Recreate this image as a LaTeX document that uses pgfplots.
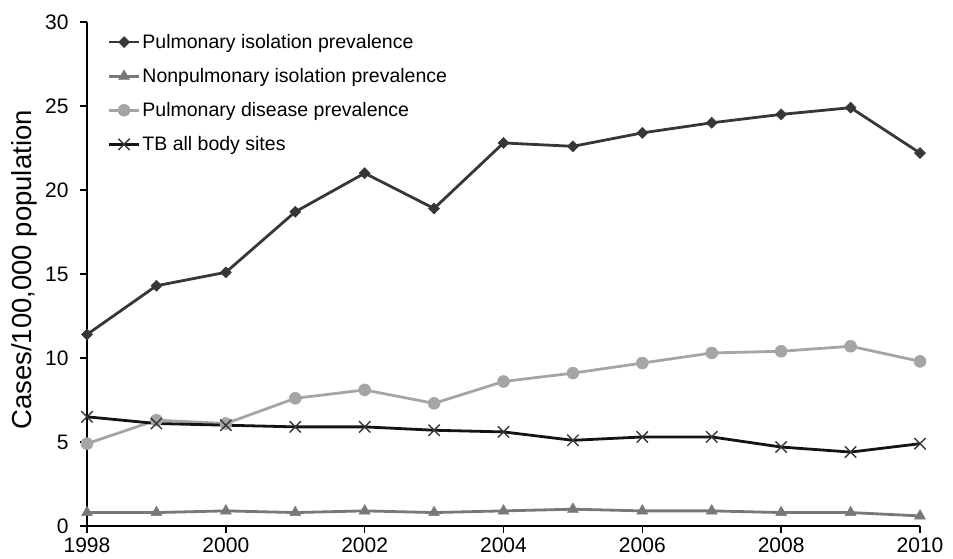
\documentclass[border=0pt]{standalone}
\usepackage{fontspec}
\setmainfont{Liberation Sans}
\usepackage{pgfplots}
\pgfplotsset{compat=1.18}
\begin{document}
\begin{tikzpicture}
\definecolor{cPulIso}{RGB}{55,55,55}
\definecolor{cNonPul}{RGB}{120,120,120}
\definecolor{cPulDis}{RGB}{165,165,165}
\definecolor{cTB}{RGB}{20,20,20}
\begin{axis}[
    name=ax,
    scale only axis,
    width=833bp, height=504bp,
    xmin=1998, xmax=2010,
    ymin=0, ymax=30,
    xtick={1998,2000,...,2010},
    ytick={0,5,...,30},
    axis x line=bottom,
    axis y line=left,
    axis line style={-, line width=1.6bp, black},
    tick align=outside,
    major tick length=7bp,
    tick style={line width=1.4bp, black},
    minor tick num=0,
    clip=false,
    /pgf/number format/1000 sep={},
    /pgf/number format/assume math mode=true,
    tick label style={font=\fontsize{21bp}{25bp}\selectfont},
    xticklabel style={yshift=-1bp},
    yticklabel style={xshift=-8bp},
    ylabel={Cases/100,000 population},
    ylabel style={font=\fontsize{27.5bp}{32bp}\selectfont,
        at={(axis description cs:-0.0756,0.508)}, anchor=center},
    legend style={draw=none, fill=none, at={(0.021,0.984)}, anchor=north west,
        font=\fontsize{19.5bp}{23bp}\selectfont, row sep=14.5bp,
        /tikz/every even column/.append style={column sep=3bp}},
    legend cell align=left,
    legend image code/.code={%
        \draw[mark repeat=2,mark phase=2] plot coordinates {(0bp,0bp)(15bp,0bp)(30bp,0bp)};},
]
\addplot[color=cPulIso, line width=2.8bp, mark=square*, mark size=3.9bp,
    mark options={fill=cPulIso, line width=0.5bp, rotate=45}]
    coordinates {
    (1998,11.4)(1999,14.3)(2000,15.1)(2001,18.7)(2002,21.0)(2003,18.9)(2004,22.8)
    (2005,22.6)(2006,23.4)(2007,24.0)(2008,24.5)(2009,24.9)(2010,22.2)
    };
\addplot[color=cNonPul, line width=2.8bp, mark=triangle*, mark size=6.3bp,
    mark options={fill=cNonPul, line width=0.5bp}]
    coordinates {
    (1998,0.8)(1999,0.8)(2000,0.9)(2001,0.8)(2002,0.9)(2003,0.8)(2004,0.9)
    (2005,1.0)(2006,0.9)(2007,0.9)(2008,0.8)(2009,0.8)(2010,0.6)
    };
\addplot[color=cPulDis, line width=2.8bp, mark=*, mark size=6bp,
    mark options={fill=cPulDis, line width=0.5bp}]
    coordinates {
    (1998,4.9)(1999,6.3)(2000,6.1)(2001,7.6)(2002,8.1)(2003,7.3)(2004,8.6)
    (2005,9.1)(2006,9.7)(2007,10.3)(2008,10.4)(2009,10.7)(2010,9.8)
    };
\addplot[color=cTB, line width=2.8bp, mark=x, mark size=8bp,
    mark options={line width=1.4bp, color=cTB!85!white}]
    coordinates {
    (1998,6.5)(1999,6.1)(2000,6.0)(2001,5.9)(2002,5.9)(2003,5.7)(2004,5.6)
    (2005,5.1)(2006,5.3)(2007,5.3)(2008,4.7)(2009,4.4)(2010,4.9)
    };
\legend{Pulmonary isolation prevalence,
    Nonpulmonary isolation prevalence,
    Pulmonary disease prevalence,
    TB all body sites}
\end{axis}
\pgfresetboundingbox
\path ([xshift=-87bp,yshift=-33bp]ax.south west) rectangle ([xshift=33bp,yshift=22bp]ax.north east);
\end{tikzpicture}
\end{document}
